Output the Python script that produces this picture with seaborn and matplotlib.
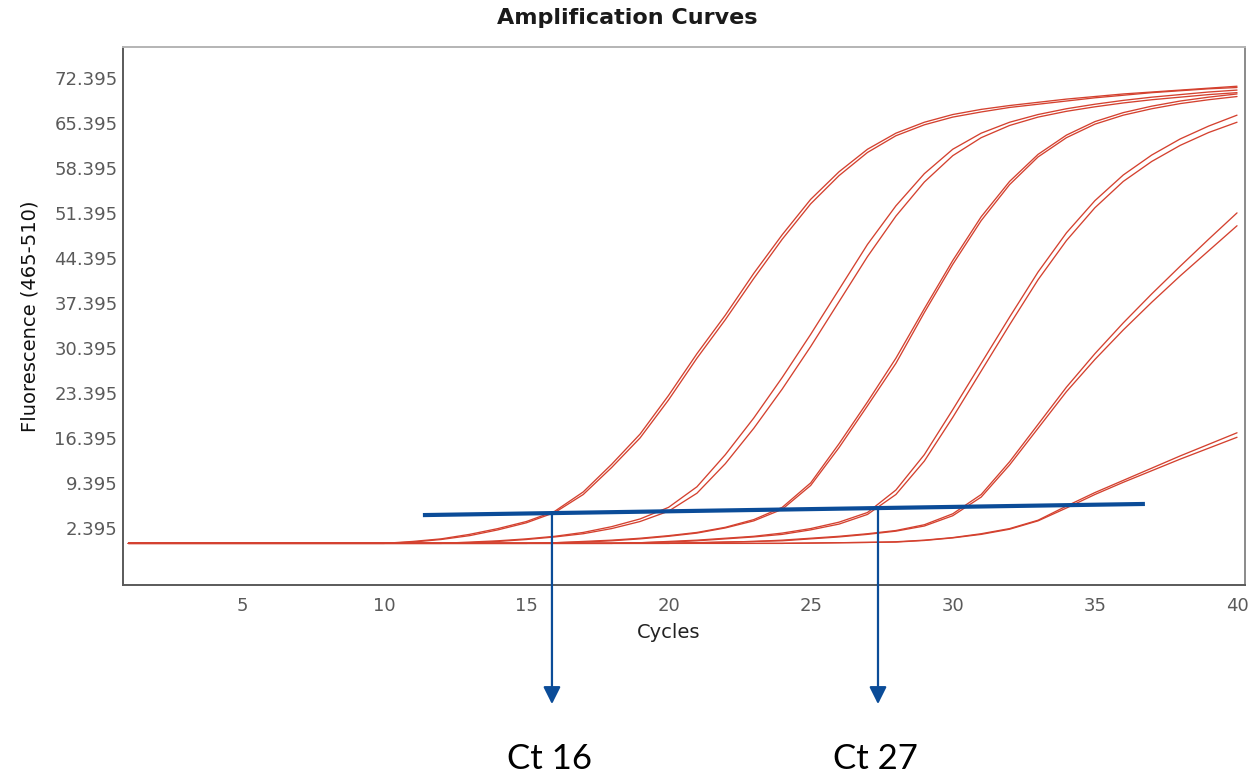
import matplotlib
matplotlib.use("Agg")
import matplotlib.pyplot as plt
import numpy as np
import pandas as pd
import seaborn as sns

# ---- data ----
cycles = list(range(1, 41))

# two replicate wells per dilution, cycles 1..40
well_a1 = [0.0] * 10 + [0.3, 0.7, 1.4, 2.3, 3.4, 5.0, 8.0, 12.3, 17.0, 23.0,
                        29.5, 35.5, 42.0, 48.0, 53.5, 57.8, 61.3, 63.8, 65.5, 66.7,
                        67.5, 68.1, 68.6, 69.1, 69.5, 69.9, 70.2, 70.5, 70.8, 71.1]
well_a2 = [0.0] * 10 + [0.2, 0.6, 1.2, 2.1, 3.2, 4.8, 7.6, 11.8, 16.4, 22.3,
                        28.8, 34.8, 41.2, 47.3, 52.8, 57.2, 60.8, 63.4, 65.1, 66.3,
                        67.1, 67.8, 68.3, 68.8, 69.3, 69.7, 70.1, 70.4, 70.7, 70.9]
well_b1 = [0.0] * 12 + [0.2, 0.4, 0.7, 1.1, 1.7, 2.6, 3.8, 5.6, 8.8, 13.8,
                        19.5, 25.8, 32.5, 39.5, 46.5, 52.5, 57.5, 61.3, 63.8, 65.5,
                        66.7, 67.6, 68.3, 68.9, 69.4, 69.8, 70.2, 70.5]
well_b2 = [0.0] * 12 + [0.1, 0.3, 0.6, 1.0, 1.5, 2.3, 3.4, 5.0, 7.8, 12.4,
                        17.9, 24.0, 30.6, 37.6, 44.6, 50.9, 56.2, 60.3, 63.1, 65.0,
                        66.3, 67.2, 67.9, 68.5, 69.0, 69.4, 69.8, 70.1]
well_c1 = [0.0] * 15 + [0.1, 0.3, 0.5, 0.8, 1.2, 1.7, 2.5, 3.7, 5.6, 9.4,
                        15.5, 22.0, 28.8, 36.5, 44.0, 50.8, 56.3, 60.5, 63.5, 65.6,
                        67.0, 68.0, 68.8, 69.4, 69.9]
well_c2 = [0.0] * 15 + [0.1, 0.2, 0.4, 0.7, 1.1, 1.6, 2.4, 3.5, 5.3, 9.0,
                        14.9, 21.4, 28.0, 35.9, 43.4, 50.2, 55.8, 60.1, 63.1, 65.2,
                        66.6, 67.6, 68.4, 69.0, 69.5]
well_d1 = [0.0] * 18 + [0.1, 0.3, 0.5, 0.8, 1.1, 1.6, 2.3, 3.3, 4.8, 8.3,
                        13.8, 20.8, 28.0, 35.2, 42.2, 48.3, 53.3, 57.3, 60.4, 62.9,
                        64.9, 66.6]
well_d2 = [0.0] * 18 + [0.1, 0.2, 0.4, 0.7, 1.0, 1.4, 2.1, 3.0, 4.5, 7.6,
                        12.8, 19.6, 26.8, 34.0, 41.0, 47.1, 52.2, 56.3, 59.4, 61.9,
                        63.9, 65.5]
well_e1 = [0.0] * 20 + [0.1, 0.2, 0.3, 0.5, 0.8, 1.1, 1.5, 2.0, 2.9, 4.6,
                        7.6, 12.7, 18.5, 24.3, 29.5, 34.3, 38.8, 43.1, 47.3, 51.4]
well_e2 = [0.0] * 20 + [0.1, 0.2, 0.3, 0.4, 0.7, 1.0, 1.4, 1.9, 2.7, 4.3,
                        7.2, 12.2, 17.9, 23.6, 28.6, 33.2, 37.5, 41.6, 45.5, 49.4]
well_f1 = [0.0] * 24 + [0.05, 0.1, 0.15, 0.25, 0.5, 0.9, 1.5, 2.3, 3.6, 5.8,
                        7.9, 9.8, 11.7, 13.6, 15.4, 17.2]
well_f2 = [0.0] * 24 + [0.05, 0.1, 0.15, 0.2, 0.45, 0.85, 1.4, 2.2, 3.5, 5.5,
                        7.6, 9.5, 11.3, 13.1, 14.8, 16.5]

wells = {
    "A1": well_a1, "A2": well_a2, "B1": well_b1, "B2": well_b2,
    "C1": well_c1, "C2": well_c2, "D1": well_d1, "D2": well_d2,
    "E1": well_e1, "E2": well_e2, "F1": well_f1, "F2": well_f2,
}

y_ticks = [2.395, 9.395, 16.395, 23.395, 30.395, 37.395, 44.395, 51.395,
           58.395, 65.395, 72.395]
x_ticks = [5, 10, 15, 20, 25, 30, 35, 40]

threshold_x = [11.36, 36.76]
threshold_y = [4.4, 6.13]

ct_x = [15.9, 27.37]
ct_labels = ["Ct 16", "Ct 27"]

RED = "#d4412f"
BLUE = "#0b4c98"

df = pd.concat(
    [pd.DataFrame({"cycle": cycles, "fluor": v, "well": k}) for k, v in wells.items()],
    ignore_index=True,
)

sns.set_theme(style="white")
plt.rcParams["font.family"] = ["DejaVu Sans"]

fig = plt.figure(figsize=(12.54, 7.81), dpi=100)
ax = fig.add_axes([0.0981, 0.251, 0.8947, 0.6888])

sns.lineplot(data=df, x="cycle", y="fluor", units="well", estimator=None,
             color=RED, lw=0.95, ax=ax, legend=False)

ax.plot(threshold_x, threshold_y, color=BLUE, lw=3.0, solid_capstyle="butt", zorder=5)

# Ct arrows dropping from the threshold line to below the axis
for x, lab in zip(ct_x, ct_labels):
    y0 = np.interp(x, threshold_x, threshold_y)
    ax.annotate("", xy=(x, -25.0), xytext=(x, y0),
                arrowprops=dict(arrowstyle="-|>", color=BLUE, lw=1.6,
                                mutation_scale=26, shrinkA=0, shrinkB=0),
                annotation_clip=False, zorder=6)
    ax.text(x - 0.1, -33.6, lab, ha="center", va="center", fontsize=25,
            family=["Lato", "DejaVu Sans"], color="black", clip_on=False)

ax.set_xlim(0.81, 40.28)
ax.set_ylim(-6.47, 77.2)
ax.set_xticks(x_ticks)
ax.set_yticks(y_ticks)
ax.set_yticklabels([f"{t:.3f}" for t in y_ticks])
ax.tick_params(axis="both", length=0, labelsize=13, labelcolor="#5a5a5a")
ax.tick_params(axis="x", pad=8.5)
ax.tick_params(axis="y", pad=4)

ax.set_xlabel("Cycles", fontsize=14, color="#222222", va="top")
ax.xaxis.set_label_coords(0.486, -0.07)
ax.set_ylabel("Fluorescence (465-510)", fontsize=14, color="#111111")
ax.yaxis.set_label_coords(-0.074, 0.5)

for side, col in (("left", "#5a5a5a"), ("bottom", "#5a5a5a"),
                  ("top", "#b4b4b4"), ("right", "#8a8a8a")):
    ax.spines[side].set_color(col)
    ax.spines[side].set_linewidth(1.4)

fig.text(0.5, 0.977, "Amplification Curves", ha="center", va="center",
         fontsize=16, fontweight="bold", color="#1a1a1a")

fig.savefig("out.png", dpi=100)
